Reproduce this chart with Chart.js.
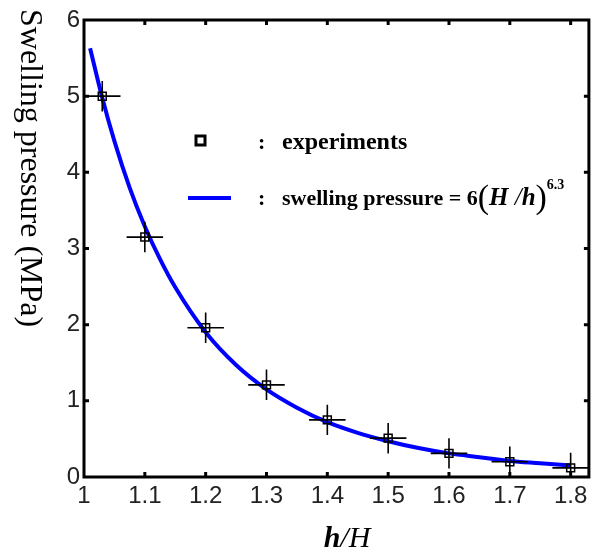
<!DOCTYPE html>
<html lang="en">
<head>
<meta charset="UTF-8">
<title>Swelling pressure vs h/H</title>
<script src="https://cdn.jsdelivr.net/npm/chart.js"></script>
<style>
  html, body { margin: 0; padding: 0; background: #fff; }
  #wrap { width: 596px; height: 552px; }
</style>
</head>
<body>
<div id="wrap"><canvas id="chart" width="596" height="552"></canvas></div>
<script>
// tick values
const xTicks = [1, 1.1, 1.2, 1.3, 1.4, 1.5, 1.6, 1.7, 1.8];
const yTicks = [0, 1, 2, 3, 4, 5, 6];

// experiments (with error bars)
const expX = [1.03, 1.1, 1.2, 1.3, 1.4, 1.5, 1.6, 1.7, 1.8];
const expY = [5.0, 3.15, 1.96, 1.21, 0.75, 0.51, 0.31, 0.2, 0.12];
const expErrX = [0.03, 0.03, 0.03, 0.03, 0.03, 0.03, 0.03, 0.03, 0.03];
const expErrY = [0.2, 0.2, 0.2, 0.2, 0.2, 0.2, 0.2, 0.2, 0.2];

// fitted curve
const curveX = [1.01, 1.03, 1.05, 1.075, 1.1, 1.125, 1.15, 1.2, 1.25, 1.3, 1.35, 1.4, 1.45, 1.5, 1.55, 1.6, 1.65, 1.7, 1.75, 1.8];
const curveY = [5.63, 4.98, 4.41, 3.8, 3.29, 2.86, 2.49, 1.9, 1.47, 1.15, 0.91, 0.72, 0.58, 0.47, 0.38, 0.31, 0.26, 0.21, 0.18, 0.15];

const SERIF = '"Liberation Serif", "Times New Roman", serif';
const SANS = '"Liberation Sans", Arial, sans-serif';

const decorPlugin = {
  id: 'decor',
  afterDatasetsDraw(chart) {
    const ctx = chart.ctx, xs = chart.scales.x, ys = chart.scales.y, a = chart.chartArea;
    ctx.save();
    ctx.beginPath();
    ctx.rect(a.left, a.top, a.right - a.left, a.bottom - a.top);
    ctx.clip();
    ctx.strokeStyle = '#000';
    ctx.lineWidth = 1.6;
    for (let i = 0; i < expX.length; i++) {
      const px = xs.getPixelForValue(expX[i]);
      const py = ys.getPixelForValue(expY[i]);
      const x0 = xs.getPixelForValue(expX[i] - expErrX[i]);
      const x1 = xs.getPixelForValue(expX[i] + expErrX[i]);
      const y0 = ys.getPixelForValue(expY[i] - expErrY[i]);
      const y1 = ys.getPixelForValue(expY[i] + expErrY[i]);
      ctx.beginPath();
      ctx.moveTo(x0, py); ctx.lineTo(x1, py);
      ctx.moveTo(px, y0); ctx.lineTo(px, y1);
      ctx.stroke();
    }
    ctx.restore();
  },
  afterDraw(chart) {
    const ctx = chart.ctx, xs = chart.scales.x, ys = chart.scales.y, a = chart.chartArea;
    ctx.save();
    // frame
    ctx.strokeStyle = '#000';
    ctx.lineWidth = 3;
    ctx.strokeRect(a.left, a.top, a.right - a.left, a.bottom - a.top);
    // inward tick marks on all four sides
    ctx.beginPath();
    xTicks.forEach(v => {
      const px = xs.getPixelForValue(v);
      if (px <= a.left + 2) return;
      ctx.moveTo(px, a.bottom); ctx.lineTo(px, a.bottom - 5);
      ctx.moveTo(px, a.top); ctx.lineTo(px, a.top + 5);
    });
    yTicks.forEach(v => {
      const py = ys.getPixelForValue(v);
      if (py >= a.bottom - 2 || py <= a.top + 2) return;
      ctx.moveTo(a.left, py); ctx.lineTo(a.left + 5, py);
      ctx.moveTo(a.right, py); ctx.lineTo(a.right - 5, py);
    });
    ctx.stroke();

    // y axis title, rotated clockwise
    ctx.fillStyle = '#000';
    ctx.save();
    ctx.translate(21, 9);
    ctx.rotate(Math.PI / 2);
    ctx.font = '32px ' + SERIF;
    ctx.textBaseline = 'alphabetic';
    ctx.textAlign = 'left';
    ctx.fillText('Swelling pressure (MPa)', 0, 0);
    ctx.restore();

    // x axis title  h/H
    ctx.textBaseline = 'alphabetic';
    ctx.textAlign = 'left';
    const tParts = [
      { t: 'h', f: 'italic bold 30px ' + SERIF },
      { t: '/', f: 'italic 30px ' + SERIF },
      { t: 'H', f: 'italic 30px ' + SERIF }
    ];
    let tw = 0;
    tParts.forEach(p => { ctx.font = p.f; tw += ctx.measureText(p.t).width; });
    let tx = 347 - tw / 2;
    tParts.forEach(p => { ctx.font = p.f; ctx.fillText(p.t, tx, 547); tx += ctx.measureText(p.t).width; });

    // legend
    ctx.lineWidth = 3;
    ctx.strokeRect(196, 136, 9, 9);
    ctx.strokeStyle = '#0000ff';
    ctx.lineWidth = 4;
    ctx.beginPath();
    ctx.moveTo(188, 198); ctx.lineTo(231, 198);
    ctx.stroke();

    ctx.font = 'bold 22px ' + SERIF;
    ctx.fillText(':', 258, 149);
    ctx.fillText(':', 258, 205);
    ctx.font = 'bold 24px ' + SERIF;
    ctx.fillText('experiments', 282, 149);

    const parts = [
      { t: 'swelling pressure = 6', f: 'bold 22px ' + SERIF, dy: 0 },
      { t: '(', f: '34px ' + SERIF, dy: 3 },
      { t: 'H', f: 'italic bold 25px ' + SERIF, dy: 0 },
      { t: ' /', f: 'italic 25px ' + SERIF, dy: 0 },
      { t: 'h', f: 'italic bold 25px ' + SERIF, dy: 0 },
      { t: ')', f: '34px ' + SERIF, dy: 3 },
      { t: '6.3', f: 'bold 14px ' + SERIF, dy: -16 }
    ];
    let fx = 282;
    parts.forEach(p => {
      ctx.font = p.f;
      ctx.fillText(p.t, fx, 205 + p.dy);
      fx += ctx.measureText(p.t).width;
    });
    ctx.restore();
  }
};

new Chart(document.getElementById('chart'), {
  type: 'scatter',
  data: {
    datasets: [
      {
        label: 'experiments',
        data: expX.map((x, i) => ({ x: x, y: expY[i] })),
        pointStyle: 'rect',
        pointRadius: 5.6,
        pointBorderWidth: 1.5,
        pointBorderColor: '#000',
        pointBackgroundColor: 'rgba(0,0,0,0)',
        showLine: false
      },
      {
        label: 'swelling pressure',
        data: curveX.map((x, i) => ({ x: x, y: curveY[i] })),
        showLine: true,
        borderColor: '#0000ff',
        borderWidth: 4,
        pointRadius: 0,
        cubicInterpolationMode: 'monotone',
        fill: false
      }
    ]
  },
  options: {
    responsive: false,
    animation: false,
    layout: { padding: { left: 0, right: 6, top: 20, bottom: 0 } },
    plugins: { legend: { display: false }, tooltip: { enabled: false } },
    scales: {
      x: {
        type: 'linear',
        min: 1,
        max: 1.83,
        afterBuildTicks: s => { s.ticks = xTicks.map(v => ({ value: v })); },
        afterFit: s => { s.height = 75; },
        grid: { display: false, drawTicks: false },
        border: { display: false },
        ticks: {
          padding: 5,
          color: '#222',
          font: { family: SANS, size: 24 },
          callback: v => String(v)
        }
      },
      y: {
        type: 'linear',
        min: 0,
        max: 6,
        afterBuildTicks: s => { s.ticks = yTicks.map(v => ({ value: v })); },
        afterFit: s => { s.width = 84; },
        grid: { display: false, drawTicks: false },
        border: { display: false },
        ticks: {
          padding: 4,
          color: '#222',
          font: { family: SANS, size: 24 },
          callback: v => String(v)
        }
      }
    }
  },
  plugins: [decorPlugin]
});
</script>
</body>
</html>
